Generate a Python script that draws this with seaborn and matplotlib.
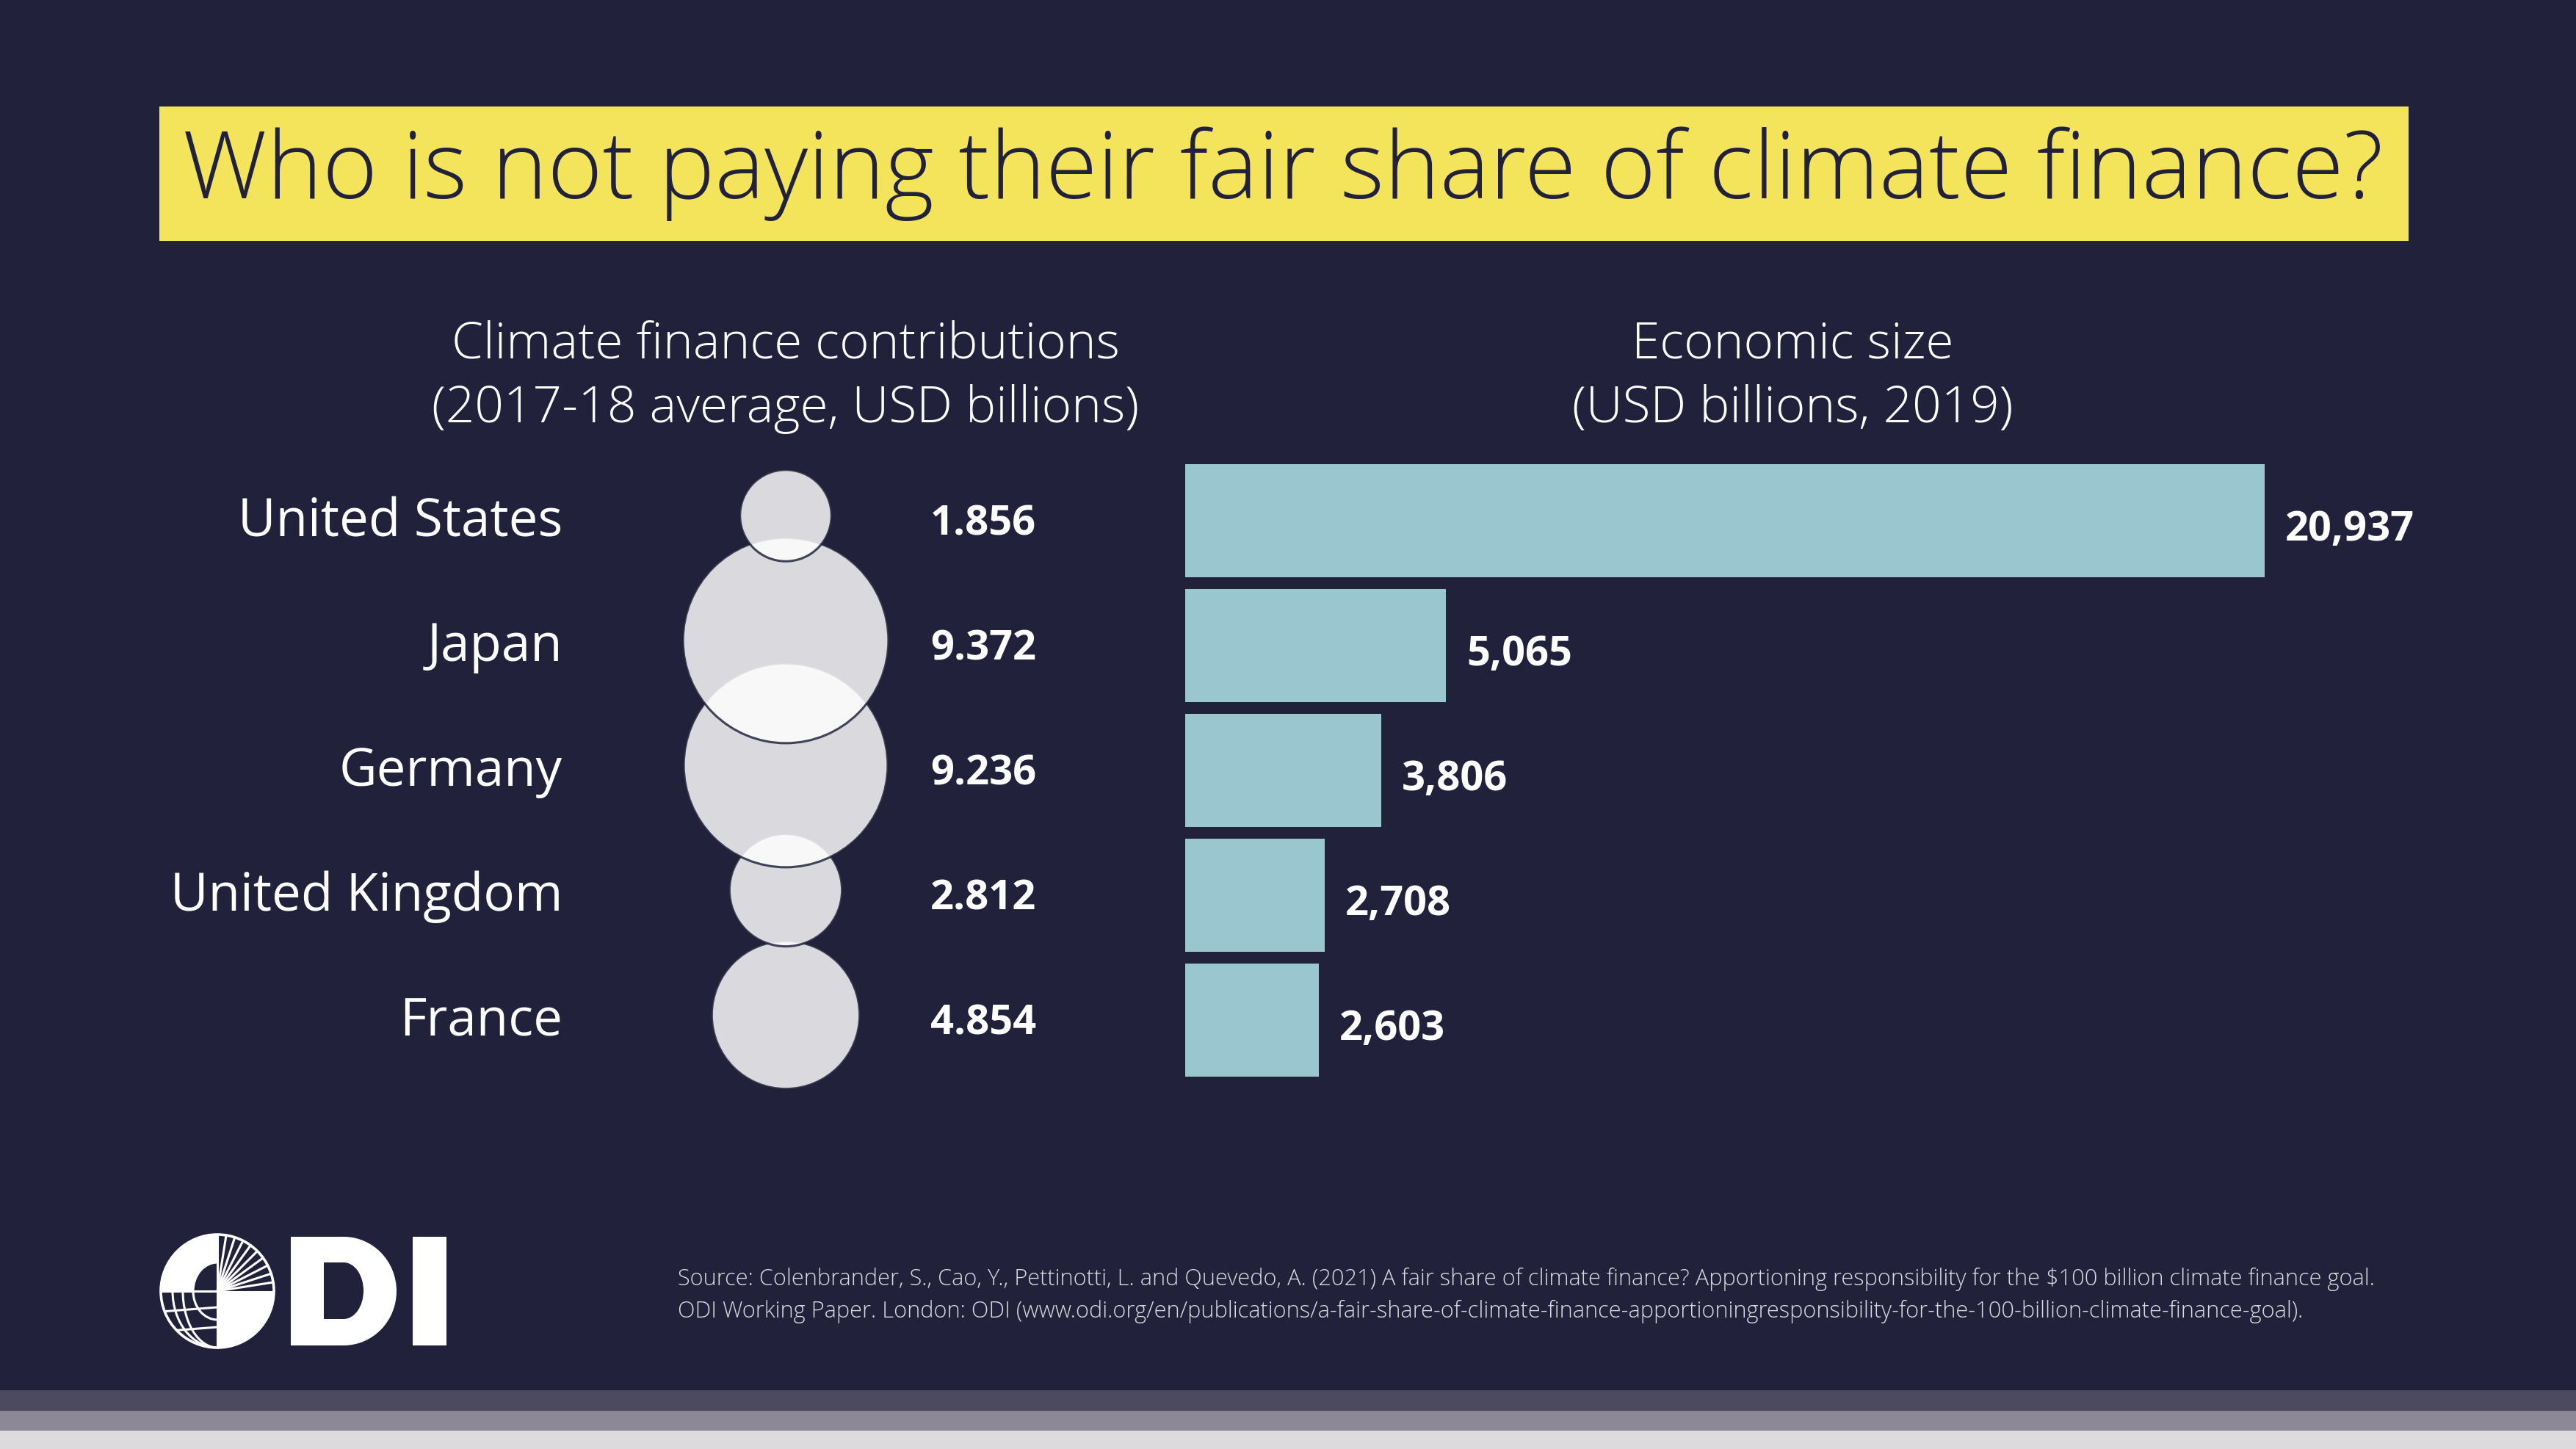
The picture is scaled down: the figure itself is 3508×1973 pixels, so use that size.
import matplotlib
matplotlib.use("Agg")
import matplotlib.pyplot as plt
import matplotlib.transforms as mtransforms
import seaborn as sns
import pandas as pd
import numpy as np
from matplotlib.patches import Rectangle, Wedge, Ellipse, Circle

# ---------------- data ----------------
countries = ["United States", "Japan", "Germany", "United Kingdom", "France"]
finance = [1.856, 9.372, 9.236, 2.812, 4.854]
finance_labels = ["1.856", "9.372", "9.236", "2.812", "4.854"]
gdp = [20937, 5065, 3806, 2708, 2603]
gdp_labels = ["20,937", "5,065", "3,806", "2,708", "2,603"]

title = "Who is not paying their fair share of climate finance?"
left_header = ["Climate finance contributions", "(2017-18 average, USD billions)"]
right_header = ["Economic size", "(USD billions, 2019)"]
source_lines = [
    "Source: Colenbrander, S., Cao, Y., Pettinotti, L. and Quevedo, A. (2021) A fair share of climate finance? "
    "Apportioning responsibility for the $100 billion climate finance goal.",
    "ODI Working Paper. London: ODI (www.odi.org/en/publications/a-fair-share-of-climate-finance-"
    "apportioningresponsibility-for-the-100-billion-climate-finance-goal).",
]

# ---------------- style ----------------
BG = "#21213B"
YELLOW = "#F4E45C"
BAR = "#9AC7CF"
W, H, DPI = 3508, 1974, 100

sns.set_theme(style="dark")
plt.rcParams["font.family"] = ["Open Sans", "DejaVu Sans"]

fig = plt.figure(figsize=(W / DPI, H / DPI), dpi=DPI, facecolor=BG)
renderer = fig.canvas.get_renderer()


def text_width(s, size, **kw):
    t = fig.text(0, 0, s, fontsize=size, parse_math=False, **kw)
    w = t.get_window_extent(renderer).width
    t.remove()
    return w


def fit_size(s, target, **kw):
    return 100.0 * target / text_width(s, 100, **kw)


def px_axes(x0, y0, x1, y1, z=2):
    ax = fig.add_axes([x0 / W, 1 - y1 / H, (x1 - x0) / W, (y1 - y0) / H], zorder=z)
    ax.set_facecolor("none")
    return ax


# background / decoration axes in pixel coordinates
bg = px_axes(0, 0, W, H, z=0)
bg.set_xlim(0, W)
bg.set_ylim(H, 0)
bg.axis("off")

# title box
bg.add_patch(Rectangle((217, 146), 3280 - 217, 329 - 146, facecolor=YELLOW, lw=0))
fs_title = fit_size(title, 2996, fontweight="light")
bg.text(1747, 270, title, ha="center", va="baseline", fontsize=fs_title,
        fontweight="light", color=BG, parse_math=False)

# headers
fs_head = 0.5 * (fit_size(left_header[0], 931, fontweight="light")
                 + fit_size(left_header[1], 940, fontweight="light"))
for i, line in enumerate(left_header):
    bg.text(1070, 487 + 88 * i, line, ha="center", va="baseline", fontsize=fs_head,
            fontweight="light", color="white")
for i, line in enumerate(right_header):
    bg.text(2441, 487 + 88 * i, line, ha="center", va="baseline", fontsize=fs_head,
            fontweight="light", color="white")

# source
fs_src = fit_size(source_lines[0], 2319, fontweight="light")
for i, line in enumerate(source_lines):
    bg.text(923, 1750 + 44 * i, line, ha="left", va="baseline", fontsize=fs_src,
            fontweight="light", color="#DADAE0", parse_math=False)

# bottom stripes
bg.add_patch(Rectangle((0, 1894), W, 28, facecolor="#4C4A5F", lw=0))
bg.add_patch(Rectangle((0, 1922), W, 27, facecolor="#8C8896", lw=0))
bg.add_patch(Rectangle((0, 1949), W, 25, facecolor="#DCDADD", lw=0))

# ODI logo
cx, cy, R = 296, 1759, 77
wl = 2.2
bg.add_patch(Wedge((cx, cy), R, 180, 270, facecolor="white", lw=0))  # top-left (screen)
clipL = Rectangle((cx - R - 5, cy - R - 5), R + 5, 2 * R + 10, transform=bg.transData)
clipBL = Wedge((cx, cy), R, 90, 180, transform=bg.transData)
for a in [47, 61]:
    e = Ellipse((cx, cy), 2 * a, 2 * R, fill=False, edgecolor="white", lw=wl)
    bg.add_patch(e)
    e.set_clip_path(clipBL)
for dy in [28, 55]:
    ln, = bg.plot([cx - R, cx], [cy + dy, cy + dy - 6], color="white", lw=wl)
    ln.set_clip_path(clipBL)
cnt = Ellipse((cx, cy), 66, 78, facecolor=BG, edgecolor="white", lw=wl)
bg.add_patch(cnt)
cnt.set_clip_path(clipL)
bg.add_patch(Wedge((cx, cy), R, 0, 90, facecolor="white", lw=0))  # bottom-right (screen)
for ang in np.arange(9, 90, 9):
    t = np.deg2rad(ang)
    bg.plot([cx, cx + R * np.cos(t)], [cy, cy - R * np.sin(t)], color="white", lw=wl)
bg.plot([cx, cx], [cy - R, cy + R], color="white", lw=wl)
bg.plot([cx - R, cx], [cy, cy], color="white", lw=wl)
bg.add_patch(Circle((cx, cy), R, fill=False, edgecolor="white", lw=2.6))
# D and I
bg.add_patch(Rectangle((396, 1685), 72, 148, facecolor="white", lw=0))
bg.add_patch(Ellipse((468, 1759), 144, 148, facecolor="white", lw=0))
bg.add_patch(Rectangle((441, 1720), 27, 77, facecolor=BG, lw=0))
bg.add_patch(Ellipse((468, 1758.5), 54, 77, facecolor=BG, lw=0))
bg.add_patch(Rectangle((562, 1685), 46, 148, facecolor="white", lw=0))

# ---------------- bubble chart ----------------
df = pd.DataFrame({"country": countries, "finance": finance,
                   "row": np.arange(len(countries)), "x": 0.0})
S_PER_UNIT = 4330.0  # marker area (pt^2) per USD billion
ax1 = px_axes(766, 618, 1500, 1468)
sns.scatterplot(data=df.iloc[::-1], x="x", y="row", size="finance",
                sizes=(0, S_PER_UNIT * max(finance)), size_norm=(0, max(finance)),
                legend=False, color="white", alpha=0.84, edgecolor=BG,
                linewidth=2.2, ax=ax1, zorder=3)
for coll in ax1.collections:
    coll.set_clip_on(False)
ax1.set_xlim(-(1070 - 766), 1500 - 1070)
ax1.set_ylim(len(countries) - 0.5, -0.5)
fs_lab = fit_size("United Kingdom", 535)
ax1.set_yticks(df["row"], countries, fontsize=fs_lab, color="white")
ax1.set_xticks([])
ax1.tick_params(axis="y", length=0, pad=0)
ax1.set_xlabel("")
ax1.set_ylabel("")
for s in ax1.spines.values():
    s.set_visible(False)
ax1.grid(False)

fs_val = fit_size("20,937", 176, fontweight="bold")
down = mtransforms.ScaledTranslation(0, -11 / DPI, fig.dpi_scale_trans)
for r, lab in zip(df["row"], finance_labels):
    ax1.text(1267 - 1070, r, lab, ha="left", va="center", fontsize=fs_val,
             fontweight="bold", color="white", transform=ax1.transData + down)

# ---------------- bar chart ----------------
ax2 = px_axes(1613.5, 625, 3300, 1475)
sns.barplot(x=gdp, y=countries, orient="h", color=BAR, saturation=1,
            width=0.904, ax=ax2, linewidth=0)
ax2.set_xlim(0, max(gdp) * (3300 - 1613.5) / (3084.5 - 1613.5))
ax2.set_ylim(len(countries) - 0.5, -0.5)
anns = ax2.bar_label(ax2.containers[0], labels=gdp_labels, padding=20, fontsize=fs_val,
                     fontweight="bold", color="white")
for a in anns:
    a.xyann = (20, -8)
ax2.axis("off")

fig.savefig("out.png", dpi=DPI, facecolor=BG)
